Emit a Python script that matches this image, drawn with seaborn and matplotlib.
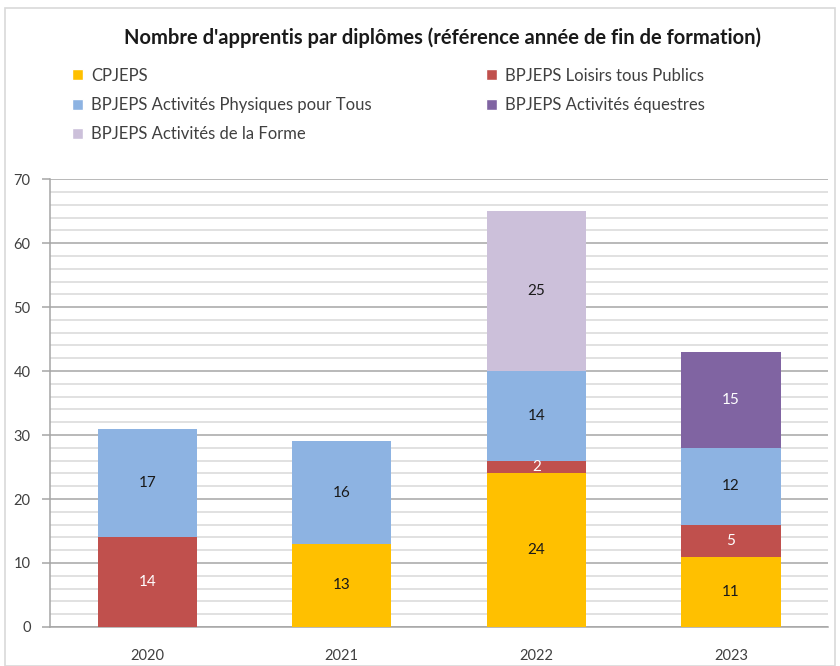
import numpy as np
import pandas as pd
import seaborn as sns
import matplotlib.pyplot as plt
from matplotlib.patches import Patch, Rectangle
from matplotlib.ticker import MultipleLocator

years = ["2020", "2021", "2022", "2023"]
cpjeps = [0, 13, 24, 11]
loisirs = [14, 0, 2, 5]
apt = [17, 16, 14, 12]
forme = [0, 0, 25, 0]
equestres = [0, 0, 0, 15]

series = [
    ("CPJEPS", cpjeps, "#FFC000", "#1a1a1a"),
    ("BPJEPS Loisirs tous Publics", loisirs, "#C0504D", "white"),
    ("BPJEPS Activités Physiques pour Tous", apt, "#8DB3E2", "#1a1a1a"),
    ("BPJEPS Activités de la Forme", forme, "#CCC0DA", "#1a1a1a"),
    ("BPJEPS Activités équestres", equestres, "#8064A2", "white"),
]

sns.set_theme(style="white")
plt.rcParams["font.family"] = ["Lato", "DejaVu Sans"]

fig = plt.figure(figsize=(8.4, 6.66), dpi=100)
ax = fig.add_axes([0.0595, 0.0586, 0.9265, 0.6724])

# cumulative heights, drawn from the top layer down
cum = np.cumsum([s[1] for s in series], axis=0)
for i in range(len(series) - 1, -1, -1):
    df = pd.DataFrame({"year": years, "value": cum[i]})
    sns.barplot(data=df, x="year", y="value", color=series[i][2],
                saturation=1, width=0.51, ax=ax, zorder=3, linewidth=0)

# segment labels
for i, (name, vals, col, tcol) in enumerate(series):
    for j, v in enumerate(vals):
        if v > 0:
            mid = cum[i][j] - v / 2
            ax.text(j, mid, str(v), ha="center", va="center",
                    fontsize=11, color=tcol, zorder=4)

ax.set_ylim(0, 70)
ax.set_xlim(-0.5, 3.5)
ax.yaxis.set_major_locator(MultipleLocator(10))
ax.yaxis.set_minor_locator(MultipleLocator(2))
ax.grid(which="minor", axis="y", color="#D9D9D9", linewidth=1.1, zorder=0)
ax.grid(which="major", axis="y", color="#A6A6A6", linewidth=1.1, zorder=0)
ax.set_axisbelow(True)
ax.set_xlabel("")
ax.set_ylabel("")
for side in ["top", "right"]:
    ax.spines[side].set_visible(False)
for side in ["left", "bottom"]:
    ax.spines[side].set_color("#A6A6A6")
    ax.spines[side].set_linewidth(1.1)
ax.tick_params(axis="y", which="major", left=True, length=6, width=1.1,
               color="#A6A6A6", labelsize=10.5, labelcolor="#404040", pad=8)
ax.tick_params(axis="x", bottom=False, labelsize=10.5, labelcolor="#404040", pad=10)

fig.text(0.527, 0.943, "Nombre d'apprentis par diplômes (référence année de fin de formation)",
         ha="center", va="center", fontsize=14.5, fontweight="bold", color="#1a1a1a")

handles = {name: Patch(facecolor=col, label=name) for name, _, col, _ in series}
leg_kw = dict(frameon=False, fontsize=12, handlelength=0.65, handleheight=0.65,
              handletextpad=0.5, labelspacing=0.8, labelcolor="#404040", borderpad=0)
leg1 = fig.legend(handles=[handles[n] for n in ["CPJEPS", "BPJEPS Activités Physiques pour Tous",
                                                 "BPJEPS Activités de la Forme"]],
                  loc="upper left", bbox_to_anchor=(0.0757, 0.911), **leg_kw)
leg2 = fig.legend(handles=[handles[n] for n in ["BPJEPS Loisirs tous Publics",
                                                 "BPJEPS Activités équestres"]],
                  loc="upper left", bbox_to_anchor=(0.5685, 0.911), **leg_kw)

fig.patches.append(Rectangle((0.006, 0.0), 0.988, 0.988, transform=fig.transFigure,
                             fill=False, edgecolor="#D9D9D9", linewidth=1.2))

fig.savefig("out.png", dpi=100, facecolor="white")
